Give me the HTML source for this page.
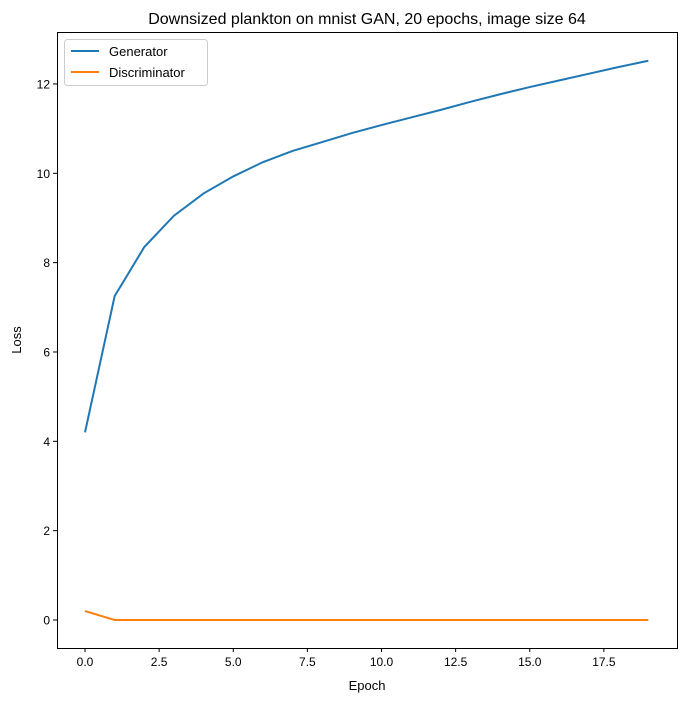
<!DOCTYPE html>
<html><head><meta charset="utf-8"><style>
body{margin:0;background:#fff;}
svg{display:block;font-family:"Liberation Sans","DejaVu Sans",sans-serif;}
</style></head><body>
<svg id="chart" width="686" height="701">
<text x="367" y="24" font-size="16" text-anchor="middle">Downsized plankton on mnist GAN, 20 epochs, image size 64</text>
<g id="axes"></g>
<g id="series"></g>
<rect x="57.5" y="32.5" width="620" height="616" fill="none" stroke="#000" stroke-width="1"/>
<text x="367" y="690" font-size="13" text-anchor="middle">Epoch</text>
<text x="21" y="340" font-size="13" text-anchor="middle" transform="rotate(-90 21 340)">Loss</text>
<g>
<rect x="64.5" y="39.5" width="143" height="46" rx="3" fill="#fff" stroke="#ccc"/>
<line x1="71" y1="51" x2="99" y2="51" stroke="#1f77b4" stroke-width="2"/>
<text x="109" y="56" font-size="13">Generator</text>
<line x1="71" y1="72" x2="99" y2="72" stroke="#ff7f0e" stroke-width="2"/>
<text x="109" y="77" font-size="13">Discriminator</text>
</g>
</svg>
<script>
const epochs=[0,1,2,3,4,5,6,7,8,9,10,11,12,13,14,15,16,17,18,19];
const generatorLoss=[4.2,7.25,8.35,9.05,9.55,9.93,10.25,10.5,10.7,10.9,11.08,11.25,11.42,11.6,11.77,11.93,12.08,12.23,12.38,12.52];
const discriminatorLoss=[0.2,0.001,0.001,0.001,0.001,0.001,0.001,0.001,0.001,0.001,0.001,0.001,0.001,0.001,0.001,0.001,0.001,0.001,0.001,0.001];
const xTicks=[0,2.5,5,7.5,10,12.5,15,17.5];
const xTickLabels=["0.0","2.5","5.0","7.5","10.0","12.5","15.0","17.5"];
const yTicks=[0,2,4,6,8,10,12];
const yTickLabels=["0","2","4","6","8","10","12"];
const NS="http://www.w3.org/2000/svg";
const xs=v=>85+v*29.65;
const ys=v=>620-v*44.67;
const axes=document.getElementById('axes');
function mk(t,a,p){const e=document.createElementNS(NS,t);for(const k in a)e.setAttribute(k,a[k]);p.appendChild(e);return e;}
xTicks.forEach((t,i)=>{
 const l=mk('line',{x1:xs(t),x2:xs(t),y1:648,y2:652,stroke:'#000'},axes);
 
 
 const tx=mk('text',{x:xs(t),y:666,'font-size':12,'text-anchor':'middle'},axes);tx.textContent=xTickLabels[i];
 
 
});
yTicks.forEach((t,i)=>{
 const l=mk('line',{x1:53,x2:57,y1:ys(t),y2:ys(t),stroke:'#000'},axes);
 
 
 const tx=mk('text',{x:50,y:ys(t)+4.5,'font-size':12,'text-anchor':'end'},axes);tx.textContent=yTickLabels[i];
 
 
});
const ser=document.getElementById('series');
function line(vals,color,name){
 const p=mk('polyline',{points:vals.map((v,i)=>xs(epochs[i])+','+ys(v)).join(' '),fill:'none',stroke:color,'stroke-width':2},ser);
 
 
}
line(generatorLoss,'#1f77b4','generator-line');
line(discriminatorLoss,'#ff7f0e','discriminator-line');
</script>
</body></html>
